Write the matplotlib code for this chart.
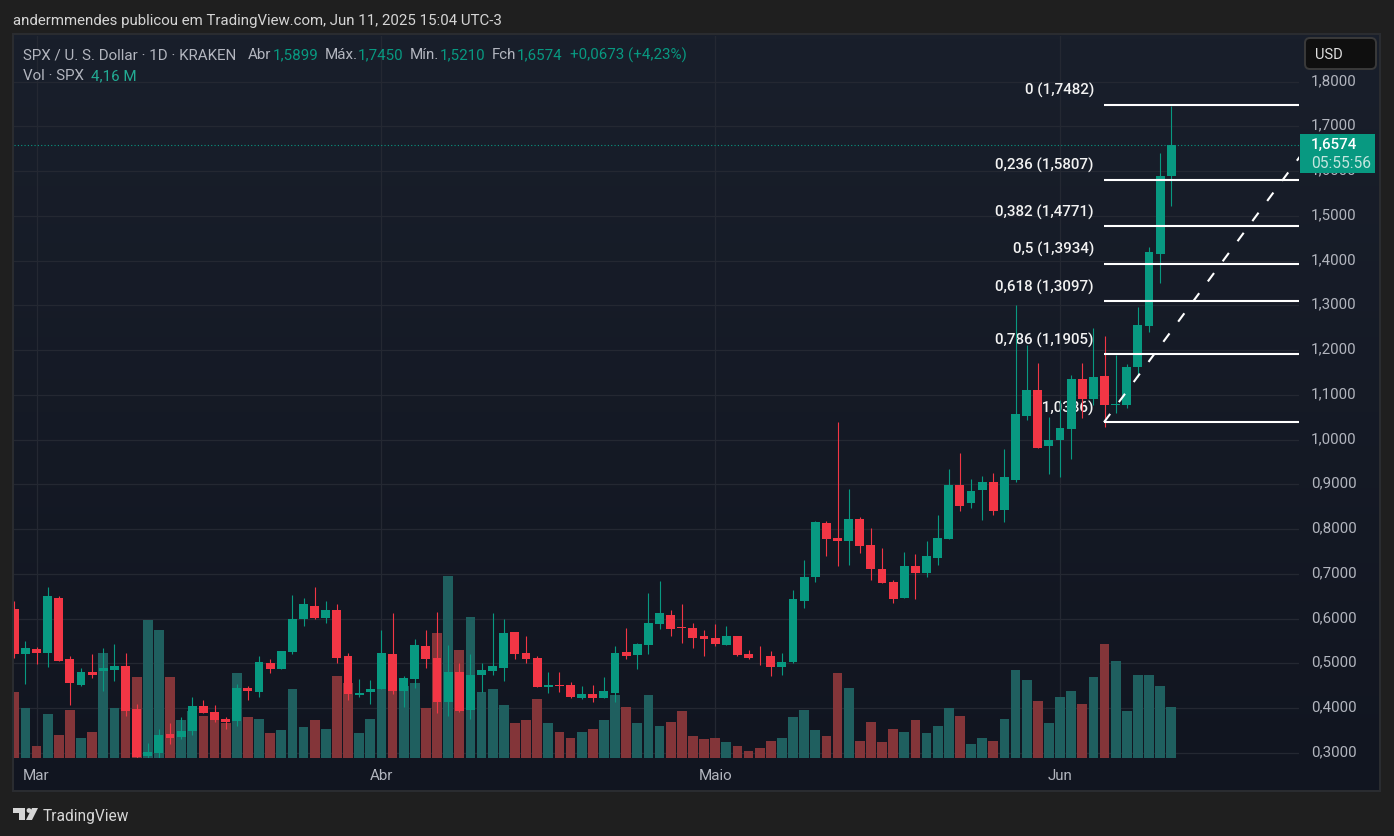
import matplotlib
matplotlib.use("Agg")
import matplotlib.pyplot as plt
import numpy as np
from matplotlib.patches import FancyBboxPatch, Polygon, Rectangle, Circle
from matplotlib.transforms import ScaledTranslation

W, H = 1394, 837

# daily candles, index 0 = Feb 27 2025, index 104 = Jun 11 2025
opens = [
    .6224, .5219, .5330, .5241, .6470, .5085, .4526, .4816, .4839, .4861, .4950, .3989, .2939, .3006, .3431,
    .3364, .3498, .4056, .3922, .3766, .3721, .4459, .4369, .5017, .4883, .5263, .5979, .6291, .6023, .6202,
    .5174, .4302, .4369, .4436, .5219, .4392, .4660, .5397, .5129, .4146, .4816, .3967, .4749, .4839, .4906,
    .5710, .5241, .5129, .4481, .4526, .4526, .4235, .4325, .4235, .4347, .5263, .5196, .5420, .5889, .6090,
    .5822, .5800, .5599, .5576, .5420, .5621, .5219, .5174, .5152, .4928, .5040, .6403, .6939, .8146, .7811,
    .7744, .8235, .7654, .7118, .6827, .6470, .7185, .7028, .7364, .7788, .8995, .8571, .8883, .9062, .8436,
    .9107, 1.0536, 1.1117, .9845, .9979, 1.0245, 1.1363, 1.0916, 1.1430, 1.0782, 1.0782, 1.1631, 1.2547,
    1.4157, 1.5899,
]
highs = [
    .6403, .5509, .5375, .6694, .6493, .5174, .4906, .5219, .5353, .5442, .5241, .4101, .3229, .3542, .3676,
    .3811, .4258, .4191, .4079, .3811, .4548, .4503, .5152, .5107, .5286, .6537, .6470, .6716, .6403, .6314,
    .5241, .4660, .4638, .5733, .6135, .4727, .5554, .5755, .6157, .5420, .5017, .5219, .5017, .6135, .5979,
    .5710, .5599, .5174, .4816, .4816, .4593, .4503, .4526, .4705, .5397, .5800, .5464, .6582, .6850, .6202,
    .6336, .5911, .5733, .5889, .5844, .5621, .5308, .5397, .5286, .5241, .6627, .7319, .8191, .8191, 1.0403,
    .8906, .8280, .8034, .7587, .6872, .7498, .7453, .7744, .8325, .9331, .9710, .9129, .9196, .9263, .9778,
    1.3017, 1.2124, 1.1720, 1.0513, 1.0894, 1.1452, 1.1720, 1.2503, 1.2324, 1.1899, 1.1698, 1.2972, 1.4313,
    1.6414, 1.7450,
]
lows = [
    .5129, .4548, .4995, .4928, .5062, .4079, .4503, .4682, .4392, .4615, .3833, .2894, .2894, .2894, .3207,
    .3319, .3408, .3900, .3699, .3542, .3609, .4191, .4258, .4794, .4883, .5219, .5844, .5979, .5911, .5017,
    .4191, .4258, .4101, .4436, .4325, .4034, .4459, .4906, .3900, .3833, .3922, .3766, .4369, .4749, .4615,
    .5085, .5017, .4481, .4347, .4369, .4235, .4213, .4146, .4235, .4146, .5085, .4883, .5219, .5777, .5621,
    .5464, .5353, .5174, .5397, .5420, .5174, .5107, .4973, .4727, .4749, .5017, .6246, .6827, .7408, .7185,
    .7207, .7475, .6872, .6805, .6358, .6470, .6447, .6939, .7207, .7788, .8414, .8481, .8213, .8325, .8168,
    .9062, 1.0446, .9822, .9241, .9174, .9576, 1.0491, 1.0782, 1.0290, 1.0603, 1.0715, 1.1408, 1.2413,
    1.3508, 1.5210,
]
closes = [
    .5219, .5353, .5241, .6515, .5062, .4570, .4816, .4749, .4906, .4950, .3945, .2917, .3028, .3408, .3341,
    .3498, .4056, .3900, .3744, .3699, .4459, .4392, .5040, .4883, .5286, .5999, .6336, .6023, .6202, .5129,
    .4325, .4347, .4436, .5241, .4392, .4682, .5420, .5107, .4146, .4816, .3945, .4749, .4861, .4950, .5688,
    .5219, .5085, .4481, .4526, .4503, .4258, .4325, .4235, .4392, .5241, .5174, .5442, .5911, .6135, .5777,
    .5800, .5576, .5532, .5442, .5621, .5196, .5129, .5152, .4928, .5040, .6426, .6939, .8168, .7788, .7744,
    .8235, .7632, .7118, .6805, .6447, .7185, .7028, .7408, .7811, .8995, .8526, .8861, .9062, .8414, .9152,
    1.0560, 1.1117, .9822, .9979, 1.0247, 1.1363, 1.0916, 1.1408, 1.0782, 1.0804, 1.1631, 1.2570, 1.4201,
    1.5900, 1.6574,
]
volumes = [
    5.49, 4.08, .92, 3.58, 1.91, 3.99, 1.66, 2.16, 8.73, 4.08, 4.41, 6.66, 11.40, 10.57, 6.66,
    3.16, 3.91, 3.49, 3.08, 2.91, 7.07, 3.41, 3.24, 2.00, 2.25, 5.74, 2.50, 3.08, 2.33, 6.82,
    6.16, 2.00, 3.24, 6.41, 7.15, 5.99, 6.16, 4.08, 10.32, 15.06, 8.98, 11.73, 5.49, 5.74, 4.33,
    2.91, 3.16, 4.83, 2.91, 2.16, 1.66, 2.08, 2.41, 3.08, 5.16, 4.16, 2.91, 5.16, 2.66, 2.99,
    3.83, 1.75, 1.50, 1.66, 1.33, .92, .58, .83, 1.41, 1.66, 3.33, 3.99, 2.25, 1.83, 7.07,
    5.82, 1.41, 2.99, 1.33, 2.33, 2.08, 3.16, 2.00, 2.58, 4.08, 3.49, 1.16, 1.66, 1.41, 3.24,
    7.32, 6.41, 4.74, 2.91, 5.07, 5.57, 4.49, 6.66, 9.48, 8.07, 3.91, 6.90, 6.90, 5.99, 4.16,
]

month_pos = [2, 33, 63, 94]
month_labels = ["Mar", "Abr", "Maio", "Jun"]
price_ticks = [.3, .4, .5, .6, .7, .8, .9, 1.0, 1.1, 1.2, 1.3, 1.4, 1.5, 1.6, 1.7, 1.8]

fib_ratio = ["0", "0,236", "0,382", "0,5", "0,618", "0,786", "1"]
fib_price = [1.7482, 1.5807, 1.4771, 1.3934, 1.3097, 1.1905, 1.0386]
fib_text_y = [90, 165, 212, 249, 287, 340, 408]

GREEN = "#089981"
RED = "#f23645"
FONT = "Roboto"
plt.rcParams["font.family"] = FONT

fig = plt.figure(figsize=(W / 100, H / 100), dpi=100, facecolor="#1f1f1f")


def box(x0, y0, x1, y1):
    return [x0 / W, 1 - y1 / H, (x1 - x0) / W, (y1 - y0) / H]


# page level stuff in pixel coordinates
back = fig.add_axes([0, 0, 1, 1], zorder=0)
back.set_xlim(0, W)
back.set_ylim(H, 0)
back.axis("off")
back.add_patch(Rectangle((12, 34), 1369, 759, fc="#2a2c30", ec="none"))
grad = np.linspace(0, 1, 200).reshape(-1, 1, 1)
top_c = np.array([25, 31, 43]) / 255
bot_c = np.array([17, 21, 32]) / 255
back.imshow(top_c + (bot_c - top_c) * grad, extent=(14, 1379, 791, 36), aspect="auto", zorder=1)
back.set_xlim(0, W)
back.set_ylim(H, 0)

back.text(13, 21, "andermmendes publicou em TradingView.com, Jun 11, 2025 15:04 UTC-3",
          color="#d5d5d5", fontsize=10.8, va="center", ha="left", zorder=3)

# tradingview logo
LOGO = "#d6d6d6"
back.add_patch(Polygon([(13, 809), (25, 809), (25, 821), (19, 821), (19, 814), (13, 814)], fc=LOGO, ec="none", zorder=3))
back.add_patch(Circle((29, 811.5), 2.4, fc=LOGO, ec="none", zorder=3))
back.add_patch(Polygon([(32, 809), (38, 809), (32, 821), (26, 821)], fc=LOGO, ec="none", zorder=3))
back.text(43, 817, "TradingView", color=LOGO, fontsize=11.2, va="center", ha="left", zorder=3)

# price pane, same scale in all three axes
x0, x1 = -0.027, 115.48
y0, y1 = .2895, 1.9029
PANE = box(14, 36.5, 1299, 758.5)
x = np.arange(len(closes))
up = np.array(closes) >= np.array(opens)

ax = fig.add_axes(PANE, zorder=1)
ax.patch.set_visible(False)
ax.set_xlim(x0, x1)
ax.set_ylim(y0, y1)
ax.yaxis.tick_right()
ax.set_yticks(price_ticks)
ax.set_yticklabels([f"{p:.4f}".replace(".", ",") for p in price_ticks])
ax.set_xticks(month_pos)
ax.set_xticklabels(month_labels)
ax.tick_params(length=0, colors="#b2b5be", labelsize=10.9)
ax.tick_params(axis="y", pad=8.6)
ax.tick_params(axis="x", pad=7.6)
# labels sit a touch higher than the gridline
nudge = ScaledTranslation(0, 2.2 / 72, fig.dpi_scale_trans)
for lab in ax.get_yticklabels():
    lab.set_transform(lab.get_transform() + nudge)
ax.grid(True, color="#242832", lw=0.9)
for s in ax.spines.values():
    s.set_visible(False)

ax_vol = fig.add_axes(PANE, zorder=2)
ax_vol.patch.set_visible(False)
ax_vol.axis("off")
ax_vol.set_xlim(x0, x1)
ax_vol.set_ylim(0, 60.07)
ax_vol.bar(x, volumes, width=0.88, color=["#1f5f5f" if u else "#833539" for u in up], linewidth=0)

ax_c = fig.add_axes(PANE, zorder=3)
ax_c.patch.set_visible(False)
ax_c.axis("off")
ax_c.set_xlim(x0, x1)
ax_c.set_ylim(y0, y1)
cols = [GREEN if u else RED for u in up]
ax_c.vlines(x, lows, highs, colors=cols, lw=0.8, zorder=2)
ax_c.bar(x, np.abs(np.array(closes) - np.array(opens)), bottom=np.minimum(opens, closes), width=0.8,
         color=cols, linewidth=0, zorder=2)

# last price line
ax_c.axhline(closes[-1], color=GREEN, lw=0.8, ls=(0, (1, 2)), zorder=1)

# fib retracement
fib_x0, fib_x1 = 97.95, 115.48
ax_c.hlines(fib_price, fib_x0, fib_x1, color="white", lw=1.5, zorder=3)
ax_c.plot([97.95, 119.0], [fib_price[-1], fib_price[0]], color="white", lw=1.5, ls=(0, (5, 7)), zorder=3)
for r, p, ty in zip(fib_ratio, fib_price, fib_text_y):
    back_y = y1 - (ty - 36.5) / (758 - 36) * (y1 - y0)
    ax_c.text(97.05, back_y, f"{r} ({p:.4f})".replace(".", ","), color="#f2f2f2", fontsize=10.9,
              fontweight="medium", ha="right", va="center", zorder=1)

# top layer: legend, price tag, currency button
top = fig.add_axes([0, 0, 1, 1], zorder=4)
top.patch.set_visible(False)
top.axis("off")
top.set_xlim(0, W)
top.set_ylim(H, 0)

GREY = "#b2b5be"
legend_bits = [
    (23, 55, "SPX / U. S. Dollar · 1D · KRAKEN", GREY),
    (248, 55, "Abr", GREY), (273, 55, "1,5899", GREEN),
    (325, 55, "Máx.", GREY), (358, 55, "1,7450", GREEN),
    (410, 55, "Mín.", GREY), (440, 55, "1,5210", GREEN),
    (492, 55, "Fch", GREY), (517, 55, "1,6574", GREEN),
    (570, 55, "+0,0673 (+4,23%)", GREEN),
    (23, 76, "Vol · SPX", GREY), (91, 76, "4,16 M", "#22ab94"),
]
for lx, ly, s, c in legend_bits:
    top.text(lx, ly, s, color=c, fontsize=10.9, ha="left", va="center")

top.add_patch(Rectangle((1300, 135), 75, 39, fc=GREEN, ec="none"))
top.text(1311, 145, "1,6574", color="white", fontsize=10.9, fontweight="medium", ha="left", va="center")
top.text(1311, 163, "05:55:56", color="#c4e6df", fontsize=11.2, ha="left", va="center")

top.add_patch(FancyBboxPatch((1305, 39), 71, 31, boxstyle="round,pad=0,rounding_size=5",
                             fc="#0f0f0f", ec="#3a3a3a", lw=1.4))
top.text(1315, 55, "USD", color="#e0e0e0", fontsize=10.5, ha="left", va="center")

fig.savefig("out.png", dpi=100, facecolor=fig.get_facecolor())
